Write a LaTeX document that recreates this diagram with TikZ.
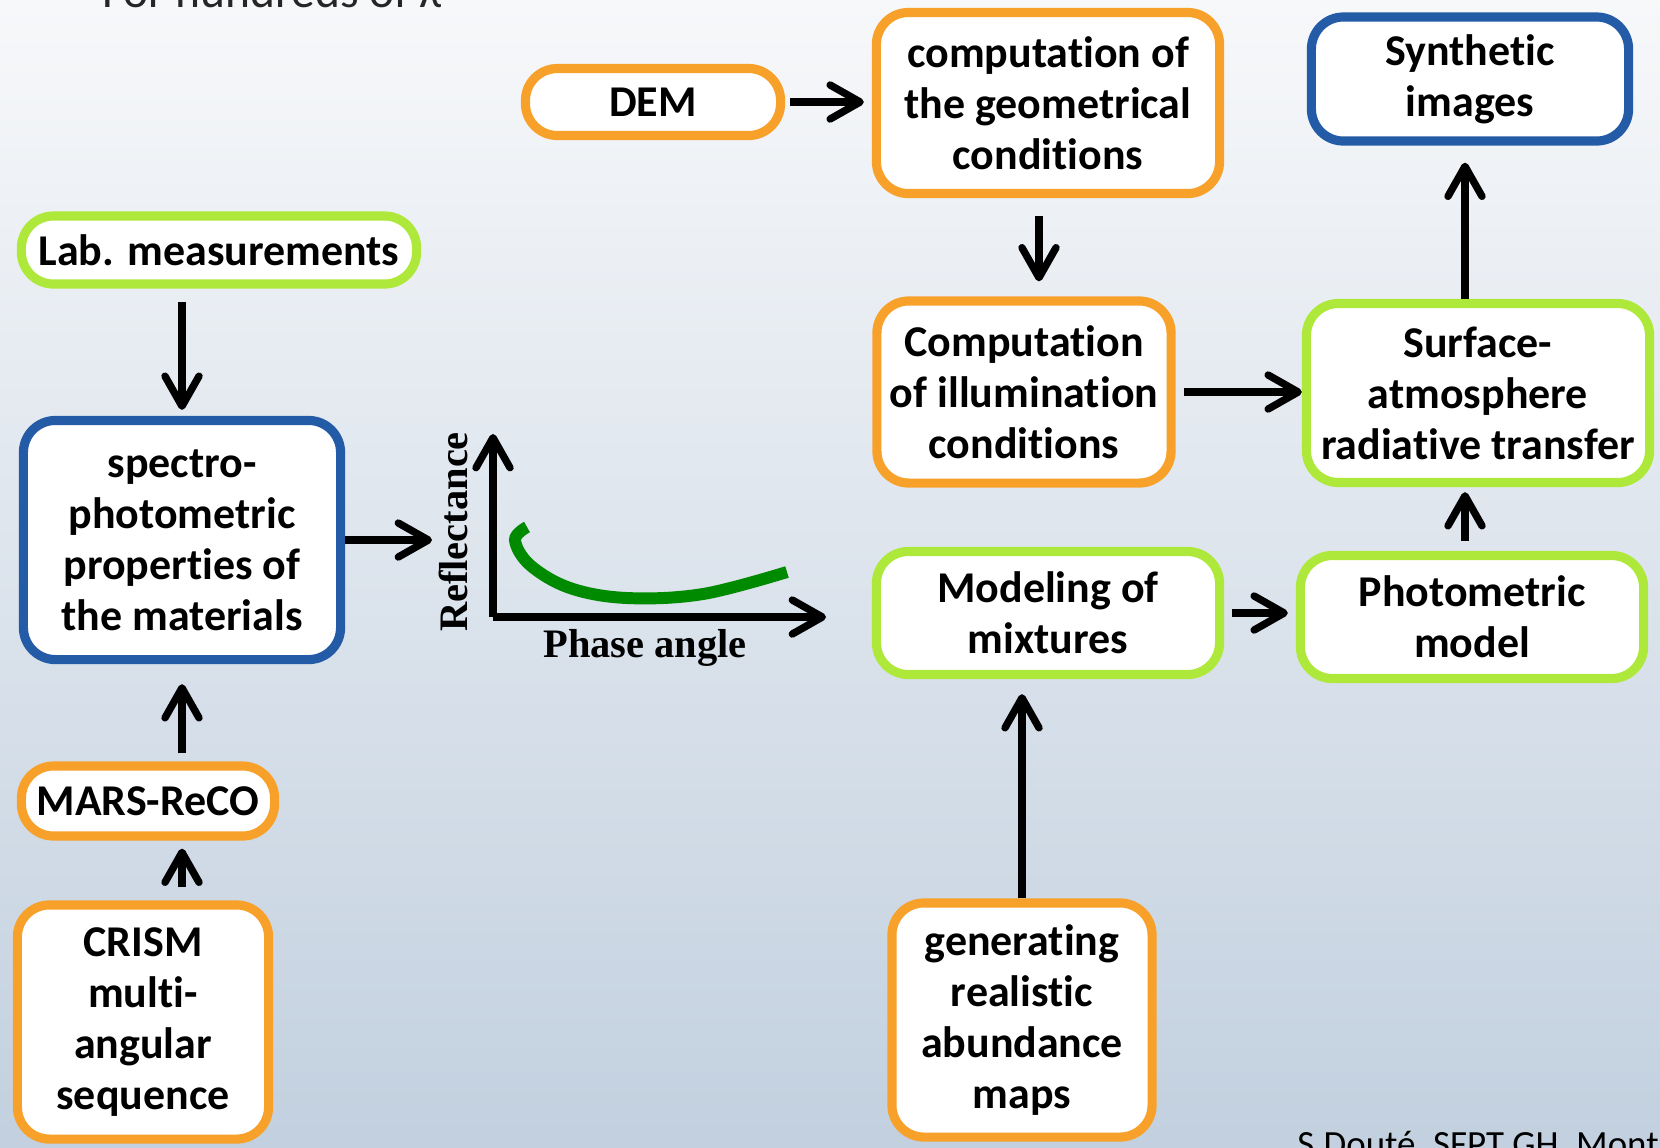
\documentclass[tikz,border=0pt]{standalone}
\usepackage{fontspec}
\setmainfont[Ligatures=NoCommon]{Carlito}
\newfontfamily\plotfont{Liberation Serif}
\usepackage{tikz}
\usepackage{xcolor}
\usetikzlibrary{arrows.meta, positioning}

\definecolor{boxorange}{HTML}{F8A12A}
\definecolor{boxgreen}{HTML}{AEE83A}
\definecolor{boxblue}{HTML}{245BA6}
\definecolor{curvegreen}{HTML}{008A00}
\definecolor{bgtop}{HTML}{F7F8FA}
\definecolor{bgbot}{HTML}{C2D0DF}

\tikzset{
  box/.style={draw, fill=white, line width=2.6pt, rounded corners=0.32cm, align=center, inner sep=0pt,
    font=\bfseries\fontsize{12.5}{14.5}\selectfont},
  orangebox/.style={box, draw=boxorange},
  greenbox/.style={box, draw=boxgreen},
  bluebox/.style={box, draw=boxblue},
  conn/.style={line width=2.1pt, -{Straight Barb[length=3mm, width=3.4mm, line cap=round, line join=round]}},
  plotlabel/.style={font=\plotfont\bfseries\fontsize{11.5}{13}\selectfont}
}

\begin{document}
\begin{tikzpicture}[x=0.01cm, y=-0.01cm]
        \useasboundingbox (0,0) rectangle (1660,1147);
        \clip (0,0) rectangle (1660,1147);
        \shade[top color=bgtop, bottom color=bgbot] (0,0) rectangle (1660,1147);

        \node[anchor=base west, font=\fontsize{13.5}{16}\selectfont, text=black!85] (title) at (90,7) {For hundreds of λ};
        \node[anchor=base west, font=\fontsize{10.5}{12}\selectfont] (credit) at (1285,1156) {S.Douté, SFPT GH, Mont};

        \node[orangebox, minimum width=2.55cm, minimum height=0.67cm] (dem) at (653,102) {DEM};
        \node[orangebox, minimum width=3.43cm, minimum height=1.81cm] (geom) at (1048,103) {computation of\\the geometrical\\conditions};
        \node[bluebox, minimum width=3.17cm, minimum height=1.24cm] (synth) at (1470,79) {Synthetic\\images};
        \node[greenbox, minimum width=3.95cm, minimum height=0.68cm] (lab) at (219,250) {Lab. measurements};
        \node[orangebox, minimum width=2.94cm, minimum height=1.82cm] (illum) at (1024,392) {Computation\\of illumination\\conditions};
        \node[greenbox, minimum width=3.43cm, minimum height=1.79cm] (surf) at (1478,393) {Surface-\\atmosphere\\radiative transfer};
        \node[bluebox, minimum width=3.17cm, minimum height=2.39cm] (spectro) at (182,540) {spectro-\\photometric\\properties of\\the materials};
        \node[greenbox, minimum width=3.43cm, minimum height=1.23cm] (mix) at (1048,613) {Modeling of\\mixtures};
        \node[greenbox, minimum width=3.43cm, minimum height=1.23cm] (photo) at (1472,617) {Photometric\\model};
        \node[orangebox, minimum width=2.53cm, minimum height=0.70cm] (mars) at (148,801) {MARS-ReCO};
        \node[orangebox, minimum width=2.51cm, minimum height=2.34cm] (crism) at (143,1022) {CRISM\\multi-\\angular\\sequence};
        \node[orangebox, minimum width=2.60cm, minimum height=2.34cm] (gen) at (1022,1020) {generating\\realistic\\abundance\\maps};

        \draw[conn, shorten <=0.05cm, shorten >=0.08cm] (dem.east) -- (dem.east -| geom.west);
        \draw[conn, shorten <=0.18cm, shorten >=0.15cm] ([xshift=-0.09cm]geom.south) -- ([xshift=-0.09cm]geom.south |- illum.north);
        \draw[conn, shorten <=0.13cm, shorten >=0.06cm] (lab.south -| spectro.north) -- (spectro.north);
        \draw[conn, shorten <=0.08cm, shorten >=0.2cm] (mars.north -| spectro.south) -- (spectro.south);
        \draw[conn, shorten <=0.13cm, shorten >=0.08cm] (crism.north -| spectro.south) -- (mars.south -| spectro.south);
        \draw[conn, shorten <=0.08cm] (illum.east) -- (illum.east -| surf.west);
        \draw[conn, shorten >=0.17cm] ([xshift=-0.13cm]surf.north) -- ([xshift=-0.13cm]surf.north |- synth.south);
        \draw[conn, shorten <=0.1cm, shorten >=0.05cm] ([xshift=-0.13cm]surf.south |- photo.north) -- ([xshift=-0.13cm]surf.south);
        \draw[conn, shorten <=0.08cm, shorten >=0.08cm] (mix.east) -- (mix.east -| photo.west);
        \draw[conn, shorten >=0.15cm] (gen.north) -- (gen.north |- mix.south);

        \coordinate (gin) at (432,540);
        \draw[conn] (spectro.east) -- (gin);

        \coordinate (orig) at (493,617);
        \coordinate (ytop) at (493,434);
        \coordinate (xend) at (826,617);
        \draw[conn] (orig) -- (ytop);
        \draw[conn] (orig) -- (xend);
        \node[plotlabel, rotate=90] (refl) at (453,532) {Reflectance};
        \node[plotlabel] (phase) at (645,648) {Phase angle};
        \draw[curvegreen, line width=3.4pt] plot[smooth, tension=0.6] coordinates {(527,527) (515,540) (530,565) (570,588) (627,598) (703,594) (787,572)};
\end{tikzpicture}
\end{document}
